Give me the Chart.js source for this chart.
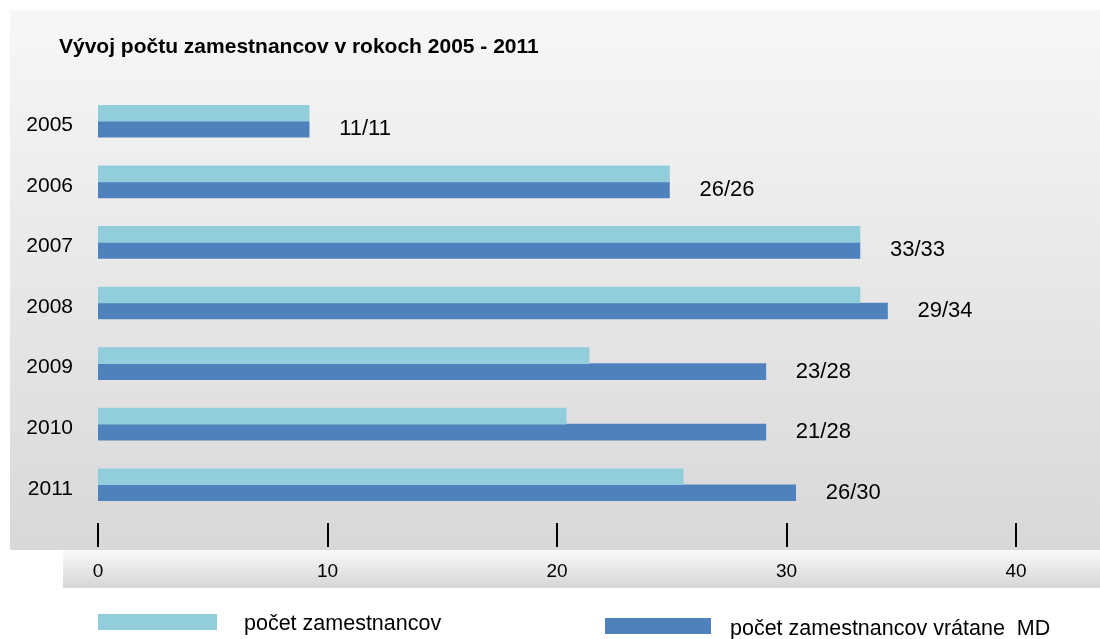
<!DOCTYPE html>
<html>
<head>
<meta charset="utf-8">
<title>Vývoj počtu zamestnancov</title>
<script src="https://cdn.jsdelivr.net/npm/chart.js@4"></script>
<style>
    body { margin: 0; background: #fff; }
    canvas { display: block; }
</style>
</head>
<body>
<canvas id="staff-chart" width="1100" height="639"></canvas>
<script>
// Data
const years = ["2005", "2006", "2007", "2008", "2009", "2010", "2011"];
const staff = [9.2, 24.9, 33.2, 33.2, 21.4, 20.4, 25.5];
const staffWithMD = [9.2, 24.9, 33.2, 34.4, 29.1, 29.1, 30.4];
const barLabels = ["11/11", "26/26", "33/33", "29/34", "23/28", "21/28", "26/30"];
const xTicks = [0, 10, 20, 30, 40];

const FONT = "'Liberation Sans', Arial, sans-serif";

// Background panels
const backgroundPlugin = {
    id: 'panels',
    beforeDraw(chart) {
        const ctx = chart.ctx;
        ctx.save();
        ctx.fillStyle = '#ffffff';
        ctx.fillRect(0, 0, chart.width, chart.height);

        let g = ctx.createLinearGradient(0, 10, 0, 550);
        g.addColorStop(0, '#f7f7f7');
        g.addColorStop(1, '#d8d8d8');
        ctx.fillStyle = g;
        ctx.fillRect(10, 10, chart.width - 10, 540);

        g = ctx.createLinearGradient(0, 550, 0, 588);
        g.addColorStop(0, '#f9f9f9');
        g.addColorStop(1, '#d6d6d6');
        ctx.fillStyle = g;
        ctx.fillRect(63, 550, chart.width - 63, 38);
        ctx.restore();
    }
};

// Title, tick marks, bar labels, legend
const decorPlugin = {
    id: 'decor',
    afterDraw(chart) {
        const ctx = chart.ctx;
        ctx.save();

        ctx.fillStyle = '#000';
        ctx.font = 'bold 21px ' + FONT;
        ctx.textBaseline = 'alphabetic';
        ctx.textAlign = 'left';
        ctx.fillText('Vývoj počtu zamestnancov v rokoch 2005 - 2011', 59, 53);

        // tick marks
        const xScale = chart.scales.x;
        ctx.strokeStyle = '#000';
        ctx.lineWidth = 2;
        xScale.ticks.forEach(t => {
            const px = Math.round(xScale.getPixelForValue(t.value));
            ctx.beginPath();
            ctx.moveTo(px, 523);
            ctx.lineTo(px, 547);
            ctx.stroke();
        });

        // value labels next to the dark bars
        const meta = chart.getDatasetMeta(1);
        ctx.font = '22px ' + FONT;
        ctx.textBaseline = 'middle';
        meta.data.forEach((bar, i) => {
            ctx.fillText(barLabels[i], bar.x + 30, bar.y);
        });

        // legend
        const ds = chart.data.datasets;
        ctx.font = '21.5px ' + FONT;
        ctx.fillStyle = ds[0].backgroundColor;
        ctx.fillRect(98, 614, 119, 16);
        ctx.fillStyle = '#000';
        ctx.fillText(ds[0].label, 244, 624);
        ctx.fillStyle = ds[1].backgroundColor;
        ctx.fillRect(605, 618, 106, 16);
        ctx.fillStyle = '#000';
        ctx.fillText(ds[1].label, 730, 629);

        ctx.restore();
    }
};

const staffCanvas = document.getElementById('staff-chart');
let staffChart = new Chart(staffCanvas, {
    type: 'bar',
    data: {
        labels: years,
        datasets: [{
            label: 'počet zamestnancov',
            data: staff,
            backgroundColor: '#92cddc',
            borderWidth: 0
        }, {
            label: 'počet zamestnancov vrátane  MD',
            data: staffWithMD,
            backgroundColor: '#4f81bd',
            borderWidth: 0
        }]
    },
    options: {
        indexAxis: 'y',
        responsive: false,
        animation: false,
        barThickness: 16,
        layout: {
            padding: { top: 91, right: 84, left: 0, bottom: 0 }
        },
        scales: {
            x: {
                min: 0,
                max: 40,
                afterBuildTicks: scale => {
                    scale.ticks = xTicks.map(v => ({ value: v }));
                },
                afterFit: scale => { scale.height = 124; },
                grid: { display: false, drawTicks: false },
                border: { display: false },
                ticks: {
                    padding: 45,
                    color: '#000',
                    font: { family: FONT, size: 19 }
                }
            },
            y: {
                afterFit: scale => { scale.width = 98; },
                grid: { display: false, drawTicks: false },
                border: { display: false },
                ticks: {
                    padding: 25,
                    labelOffset: 4,
                    color: '#000',
                    font: { family: FONT, size: 21 }
                }
            }
        },
        plugins: {
            legend: { display: false },
            tooltip: { enabled: false }
        }
    },
    plugins: [backgroundPlugin, decorPlugin]
});
</script>
</body>
</html>
